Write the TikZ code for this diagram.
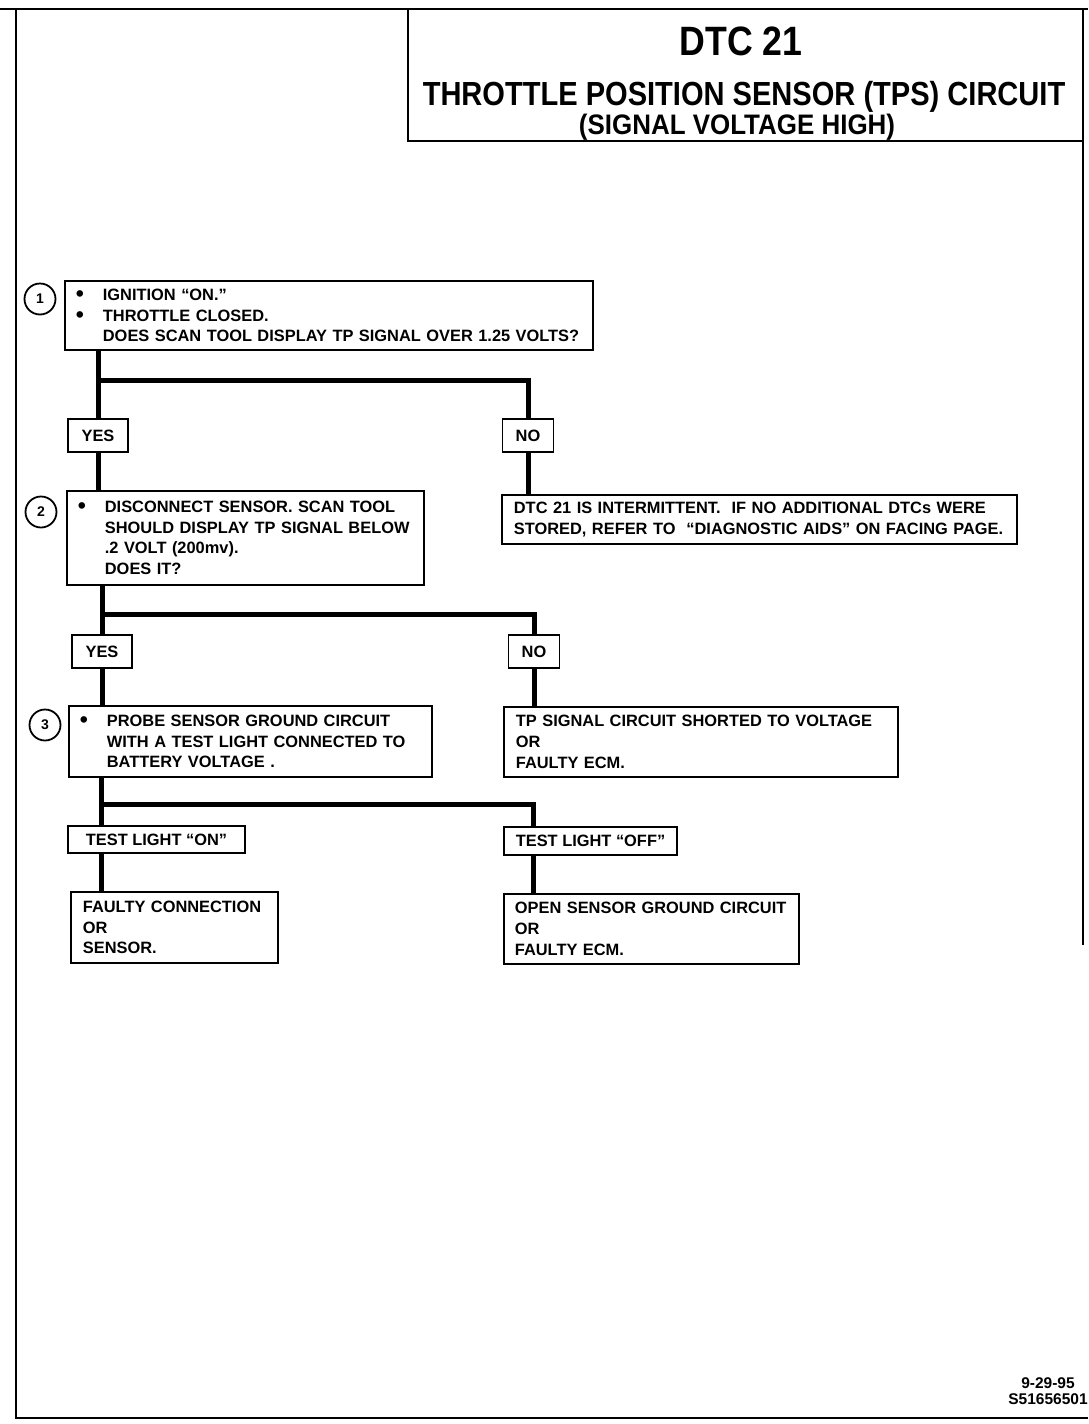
\documentclass[tikz,border=0pt]{standalone}
\usepackage{fontspec}
\setmainfont{Liberation Sans}
\newfontfamily\titlefont[FakeStretch=0.87]{Liberation Sans}
\newfontfamily\subfont[FakeStretch=0.92]{Liberation Sans}
\usetikzlibrary{positioning}
\newcommand{\bodyfont}{\fontsize{16.4}{20.7}\selectfont\bfseries}
\newcommand{\bul}{\makebox[27pt][l]{\raisebox{-1.2pt}{\fontsize{23}{20.7}\selectfont\textbullet}}}
\newcommand{\ind}{\hspace*{27pt}}
\tikzstyle{block} = [draw, rectangle, line width=1.8pt, fill=white,
    anchor=north west, align=left, inner xsep=11pt, inner ysep=0pt,
    font=\bodyfont]
\tikzstyle{result} = [block, inner xsep=12pt]
\tikzstyle{answer} = [draw, rectangle, line width=1.8pt, fill=white,
    inner sep=0pt, font=\bodyfont]
\tikzstyle{stepnum} = [draw, circle, line width=1.8pt, inner sep=0pt,
    minimum size=31pt, font=\fontsize{14}{14}\selectfont\bfseries]
\tikzstyle{branch} = [coordinate]
\tikzstyle{link} = [line width=5pt]

\begin{document}
\begin{tikzpicture}[x=1pt, y=-1pt]
    \useasboundingbox (0,0) rectangle (1088,1424);
    % page frame and title box
    \draw [line width=2.5pt] (0,9) -- (1088,9);
    \draw [line width=2.5pt] (16,9) -- (16,1418) -- (1088,1418);
    \draw [line width=2.5pt] (1083,9) -- (1083,945);
    \draw [line width=1.8pt] (408,9) rectangle (1083,141);
    \node [anchor=base, font=\titlefont\fontsize{41}{41}\selectfont\bfseries]
        (dtc) at (741,55) {DTC 21};
    \node [anchor=base, font=\titlefont\fontsize{33.4}{33.4}\selectfont\bfseries]
        (tps) at (744,105) {THROTTLE POSITION SENSOR (TPS) CIRCUIT};
    \node [anchor=base, font=\subfont\fontsize{28.2}{28.2}\selectfont\bfseries]
        (high) at (737,134) {(SIGNAL VOLTAGE HIGH)};

    % We start by placing the step boxes
    \node [block, text width=506pt, minimum height=69pt] (s1) at (64,280)
        {\bul IGNITION “ON.”\\
         \bul THROTTLE CLOSED.\\
         \ind DOES SCAN TOOL DISPLAY TP SIGNAL OVER 1.25 VOLTS?};
    \node [stepnum] (n1) at (40,299) {1};
    \node [answer, minimum width=60pt, minimum height=33pt] (yes1) at (98,435.5) {YES};
    \node [answer, minimum width=51pt, minimum height=33pt] (no1) at (528,435.5) {NO};
    \node [block, text width=335pt, minimum height=94pt] (s2) at (66,490)
        {\bul DISCONNECT SENSOR. SCAN TOOL\\
         \ind SHOULD DISPLAY TP SIGNAL BELOW\\
         \ind .2 VOLT (200mv).\\
         \ind DOES IT?};
    \node [stepnum] (n2) at (41,512) {2};
    \node [result, text width=491pt, minimum height=49pt] (intm) at (501,494)
        {DTC 21 IS INTERMITTENT.\ \ IF NO ADDITIONAL DTCs WERE\\
         STORED, REFER TO\ \ “DIAGNOSTIC AIDS” ON FACING PAGE.};
    \node [answer, minimum width=60pt, minimum height=33pt] (yes2) at (102,651.5) {YES};
    \node [answer, minimum width=51pt, minimum height=33pt] (no2) at (534,651.5) {NO};
    \node [block, text width=341pt, minimum height=71pt] (s3) at (68,705)
        {\bul PROBE SENSOR GROUND CIRCUIT\\
         \ind WITH A TEST LIGHT CONNECTED TO\\
         \ind BATTERY VOLTAGE .};
    \node [stepnum] (n3) at (45,725) {3};
    \node [result, text width=370pt, minimum height=70pt] (short) at (503,706)
        {TP SIGNAL CIRCUIT SHORTED TO VOLTAGE\\
         OR\\
         FAULTY ECM.};
    \node [answer, minimum width=177pt, minimum height=27pt] (lon) at (156.5,839.5) {TEST LIGHT “ON”};
    \node [answer, minimum width=173pt, minimum height=28pt] (loff) at (590.5,841) {TEST LIGHT “OFF”};
    \node [result, text width=183pt, minimum height=71pt] (conn) at (70,891)
        {FAULTY CONNECTION\\
         OR\\
         SENSOR.};
    \node [result, inner xsep=11pt, text width=273pt, minimum height=70pt] (open) at (503,893)
        {OPEN SENSOR GROUND CIRCUIT\\
         OR\\
         FAULTY ECM.};
    \node [align=center, font=\fontsize{15.5}{16}\selectfont\bfseries]
        (code) at (1048,1391) {9-29-95\\S51656501};

    % Once the nodes are placed, connecting them is easy.
    \node [branch] (br1) at (98,380) {};
    \node [branch] (br2) at (102,614) {};
    \node [branch] (br3) at (101,804) {};
    \node [branch] (br3r) at (533,804) {};
    \draw [link] (br1 |- s1.south) -- (yes1.north);
    \draw [link] (yes1.south) -- (yes1.south |- s2.north);
    \draw [link] (br1) -| (no1.north);
    \draw [link] (no1.south) -- (no1.south |- intm.north);
    \draw [link] (br2 |- s2.south) -- (yes2.north);
    \draw [link] (yes2.south) -- (yes2.south |- s3.north);
    \draw [link] (br2) -| (no2.north);
    \draw [link] (no2.south) -- (no2.south |- short.north);
    \draw [link] (br3 |- s3.south) -- (br3 |- lon.north);
    \draw [link] (br3 |- lon.south) -- (br3 |- conn.north);
    \draw [link] (br3) -- (br3r) -- (br3r |- loff.north);
    \draw [link] (br3r |- loff.south) -- (br3r |- open.north);
\end{tikzpicture}
\end{document}
